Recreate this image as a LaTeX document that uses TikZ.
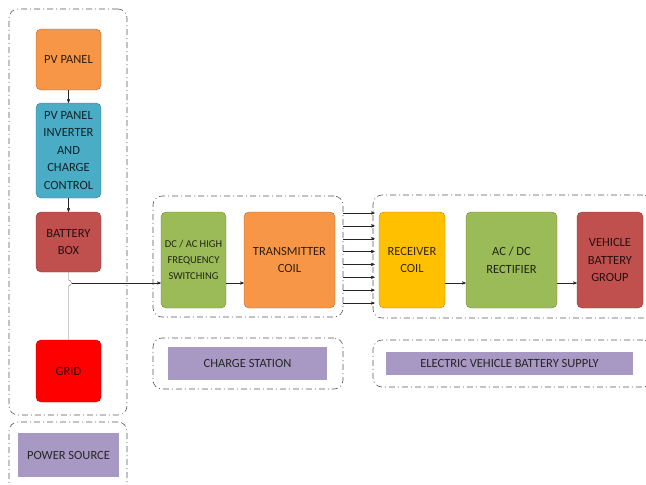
\documentclass[tikz,border=0pt]{standalone}
\usepackage{fontspec}
\setmainfont{Carlito}
\usetikzlibrary{arrows}
\definecolor{pvorange}{HTML}{F79646}
\definecolor{invblue}{HTML}{4BACC6}
\definecolor{batred}{HTML}{C0504D}
\definecolor{gridred}{HTML}{FF0000}
\definecolor{swgreen}{HTML}{9BBB59}
\definecolor{rxyellow}{HTML}{FFC000}
\definecolor{lav}{RGB}{168,152,196}

\begin{document}
\begin{tikzpicture}[x=1pt,y=-1pt,>=stealth',
    blk/.style={rectangle,rounded corners=5pt,draw=#1!70!black,fill=#1,text=black,text opacity=0.8,
      align=center,inner sep=1pt,font=\fontsize{12.5}{17.5}\selectfont},
    grp/.style={rectangle,rounded corners=9pt,draw=black!65,semithick,inner sep=0pt,
      dash pattern=on 6pt off 3pt on 1pt off 3pt},
    lbl/.style={rectangle,fill=lav,text=black!85,inner sep=0pt,font=\fontsize{12.5}{14}\selectfont},
    conn/.style={->,thin,black!85}]
  \useasboundingbox (0,0) rectangle (646,485);

  % dashed groups
  \node[grp,minimum width=118pt,minimum height=406pt] (src) at (68,212) {};
  \node[grp,minimum width=118pt,minimum height=70pt] (srcg) at (68,457) {};
  \node[grp,minimum width=190pt,minimum height=121pt] (cs) at (248,256.5) {};
  \node[grp,minimum width=190pt,minimum height=51pt] (csg) at (248,363.5) {};
  \node[grp,minimum width=279pt,minimum height=123pt] (ev) at (512.5,256.5) {};
  \node[grp,minimum width=279pt,minimum height=47pt] (evg) at (512.5,363.5) {};

  % power source
  \node[blk=pvorange,minimum width=65pt,minimum height=61pt] (pv) at (68.5,59.5) {PV PANEL};
  \node[blk=invblue,minimum width=65pt,minimum height=95pt] (inv) at (68.5,150.5)
    {PV PANEL\\INVERTER\\AND\\CHARGE\\CONTROL};
  \node[blk=batred,minimum width=65pt,minimum height=60pt] (bat) at (68.5,242) {BATTERY\\BOX};
  \node[blk=gridred,minimum width=65pt,minimum height=62pt] (grid) at (68.5,371) {GRID};
  \node[lbl,minimum width=101pt,minimum height=44pt] (srclbl) at (68.5,455) {POWER SOURCE};

  % charge station
  \node[blk=swgreen,minimum width=65pt,minimum height=96pt,font=\fontsize{10.5}{16}\selectfont]
    (dcac) at (193.5,260) {DC / AC HIGH\\FREQUENCY\\SWITCHING};
  \node[blk=pvorange,minimum width=91pt,minimum height=96pt] (tx) at (289.5,260) {TRANSMITTER\\COIL};
  \node[lbl,minimum width=159pt,minimum height=33pt] (cslbl) at (247.5,363.5) {CHARGE STATION};

  % vehicle side
  \node[blk=rxyellow,minimum width=66pt,minimum height=96pt] (rx) at (412,260) {RECEIVER\\COIL};
  \node[blk=swgreen,minimum width=91pt,minimum height=96pt] (acdc) at (511.5,260) {AC / DC\\RECTIFIER};
  \node[blk=batred,minimum width=66pt,minimum height=96pt] (vb) at (610,260) {VEHICLE\\BATTERY\\GROUP};
  \node[lbl,minimum width=247pt,minimum height=23pt] (evlbl) at (509.5,363.5) {ELECTRIC VEHICLE BATTERY SUPPLY};

  \coordinate (jn) at (68.5,283);

  \draw[conn] (pv) -- (inv);
  \draw[conn] (inv) -- (bat);
  \draw[thin,black!55] (bat.south) -- ([yshift=3pt]jn) arc[start angle=90,end angle=-90,radius=3pt]
    -- (grid.north);
  \draw[conn] ([xshift=3pt]jn) -- (dcac.west |- jn);
  \draw[conn] (dcac.east |- jn) -- (tx.west |- jn);
  \draw[conn] (rx.east |- jn) -- (acdc.west |- jn);
  \draw[conn] (acdc.east |- jn) -- (vb.west |- jn);
  \foreach \k in {0,...,7}
    \draw[conn] (cs.east |- 0,213+12.86*\k) -- ([xshift=2pt]ev.west |- 0,213+12.86*\k);
\end{tikzpicture}
\end{document}
